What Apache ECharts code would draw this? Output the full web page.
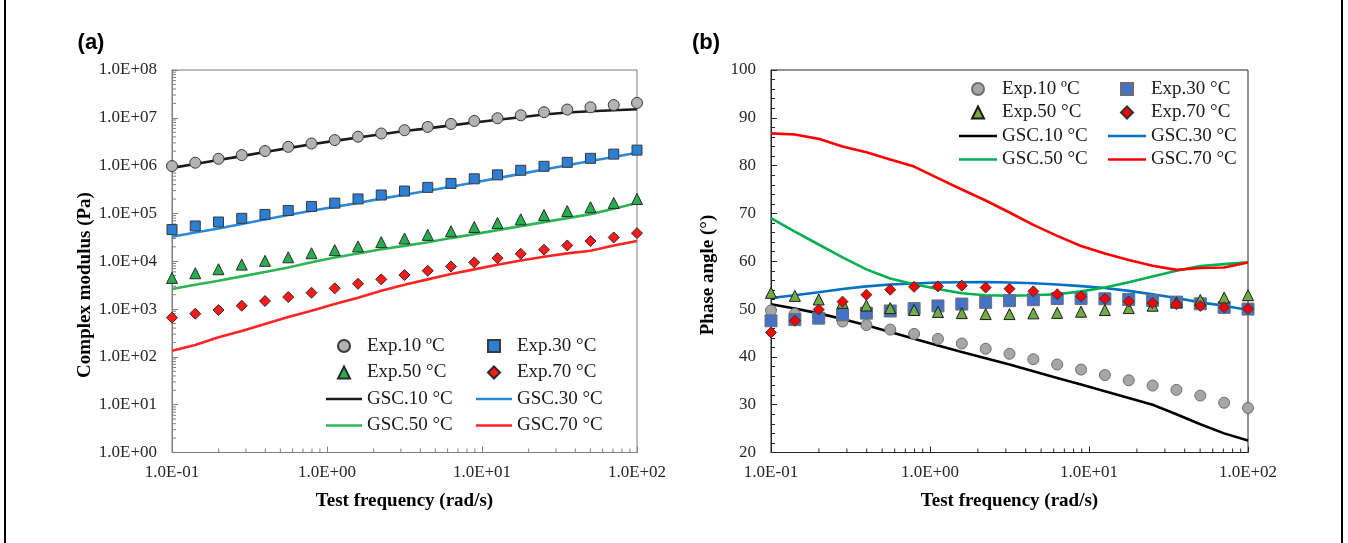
<!DOCTYPE html>
<html><head><meta charset="utf-8">
<script src="https://cdn.jsdelivr.net/npm/echarts@6.0.0/dist/echarts.min.js"></script>
<style>
html,body{margin:0;padding:0;background:#fff;width:1348px;height:543px;overflow:hidden}
#a{position:absolute;left:0;top:0;width:680px;height:543px}
#b{position:absolute;left:680px;top:0;width:668px;height:543px}
</style>
</head><body><div id="a"></div><div id="b"></div>
<script>
// ---- data ----
const freq = [0.1, 0.1413, 0.1995, 0.2818, 0.3981, 0.5623, 0.7943, 1.122, 1.585, 2.239, 3.162, 4.467, 6.310, 8.913, 12.59, 17.78, 25.12, 35.48, 50.12, 70.79, 100];

const exp10G = [9.8e5, 1.15e6, 1.39e6, 1.66e6, 2.02e6, 2.47e6, 2.9e6, 3.42e6, 4.02e6, 4.7e6, 5.5e6, 6.45e6, 7.45e6, 8.6e6, 9.8e6, 1.13e7, 1.31e7, 1.49e7, 1.66e7, 1.85e7, 2.05e7];
const exp30G = [4.59e4, 5.47e4, 6.62e4, 7.89e4, 9.53e4, 1.15e5, 1.40e5, 1.64e5, 2.01e5, 2.43e5, 2.94e5, 3.51e5, 4.25e5, 5.30e5, 6.41e5, 8.0e5, 9.68e5, 1.17e6, 1.42e6, 1.74e6, 2.11e6];
const exp50G = [4.49e3, 5.61e3, 6.81e3, 8.51e3, 1.02e4, 1.21e4, 1.47e4, 1.71e4, 2.04e4, 2.51e4, 2.99e4, 3.56e4, 4.24e4, 5.21e4, 6.31e4, 7.52e4, 9.24e4, 1.12e5, 1.35e5, 1.66e5, 2.01e5];
const exp70G = [661, 800, 955, 1175, 1472, 1786, 2198, 2710, 3380, 4180, 5140, 6320, 7800, 9460, 1.16e4, 1.43e4, 1.74e4, 2.14e4, 2.64e4, 3.15e4, 3.87e4];
const gsc10G = [8.96e5, 1.08e6, 1.31e6, 1.58e6, 1.92e6, 2.32e6, 2.81e6, 3.29e6, 3.86e6, 4.52e6, 5.3e6, 6.01e6, 6.94e6, 8.0e6, 9.1e6, 1.03e7, 1.17e7, 1.29e7, 1.37e7, 1.44e7, 1.51e7];
const gsc30G = [3.24e4, 3.98e4, 4.82e4, 6.0e4, 7.5e4, 9.25e4, 1.14e5, 1.37e5, 1.66e5, 2.04e5, 2.47e5, 2.99e5, 3.62e5, 4.45e5, 5.47e5, 6.73e5, 8.27e5, 1.02e6, 1.25e6, 1.51e6, 1.86e6];
const gsc50G = [2.62e3, 3.23e3, 3.91e3, 4.83e3, 5.94e3, 7.43e3, 9.5e3, 1.2e4, 1.45e4, 1.78e4, 2.1e4, 2.5e4, 3.05e4, 3.69e4, 4.48e4, 5.42e4, 6.58e4, 7.97e4, 9.67e4, 1.25e5, 1.66e5];
const gsc70G = [135, 177, 257, 348, 488, 683, 925, 1274, 1726, 2415, 3227, 4180, 5400, 6760, 8430, 1.04e4, 1.24e4, 1.46e4, 1.66e4, 2.14e4, 2.64e4];

const exp10P = [49.7, 49.0, 48.2, 47.4, 46.65, 45.7, 44.8, 43.75, 42.8, 41.7, 40.65, 39.5, 38.4, 37.35, 36.2, 35.1, 34.0, 33.1, 31.9, 30.4, 29.3];
const exp30P = [47.55, 47.8, 48.1, 48.8, 49.15, 49.6, 50.1, 50.65, 51.05, 51.4, 51.75, 51.95, 52.2, 52.2, 52.15, 52.0, 51.8, 51.45, 51.1, 50.35, 50.0];
const exp50P = [53.4, 52.75, 52.0, 51.3, 50.75, 50.2, 49.8, 49.4, 49.15, 48.95, 48.95, 49.1, 49.2, 49.45, 49.8, 50.2, 50.7, 51.4, 51.9, 52.4, 52.9];
const exp70P = [45.1, 47.55, 49.9, 51.55, 53.0, 54.05, 54.65, 54.75, 54.9, 54.5, 54.25, 53.7, 53.1, 52.65, 52.15, 51.6, 51.25, 51.0, 50.65, 50.35, 50.05];
const gsc10P = [51.0, 50.1, 49.1, 47.9, 46.6, 45.2, 43.8, 42.4, 41.0, 39.7, 38.4, 37.0, 35.6, 34.2, 32.8, 31.4, 30.0, 28.0, 25.9, 24.0, 22.5];
const gsc30P = [52.3, 52.9, 53.5, 54.2, 54.75, 55.15, 55.35, 55.55, 55.6, 55.65, 55.55, 55.4, 55.15, 54.8, 54.4, 53.8, 53.1, 52.3, 51.4, 50.7, 49.8];
const gsc50P = [69.0, 66.2, 63.5, 60.8, 58.3, 56.4, 55.2, 54.2, 53.3, 52.9, 52.8, 52.9, 53.1, 53.7, 54.5, 55.6, 56.8, 58.0, 59.0, 59.4, 59.8];
const gsc70P = [86.75, 86.5, 85.6, 84.0, 82.8, 81.3, 79.8, 77.4, 75.0, 72.7, 70.2, 67.6, 65.3, 63.2, 61.6, 60.25, 59.05, 58.2, 58.6, 58.7, 59.75];

const xTickLabels = ['1.0E-01', '1.0E+00', '1.0E+01', '1.0E+02'];
const yTickLabelsG = ['1.0E+00', '1.0E+01', '1.0E+02', '1.0E+03', '1.0E+04', '1.0E+05', '1.0E+06', '1.0E+07', '1.0E+08'];

const namesExp = ['Exp.10 ºC', 'Exp.30 °C', 'Exp.50 °C', 'Exp.70 °C'];
const namesGsc = ['GSC.10 °C', 'GSC.30 °C', 'GSC.50 °C', 'GSC.70 °C'];

// ---- helpers ----
const FONT = 'Liberation Serif';
const ICON = {
  circle: 'path://M50,0A50,50,0,1,1,49.99,0Z',
  rect: 'path://M0,0H100V100H0Z',
  triangle: 'path://M50,0L100,100H0Z',
  diamond: 'path://M50,0L100,50L50,100L0,50Z',
  line: 'path://M0,0H100V7H0Z'
};
const pairs = (ys) => freq.map((f, i) => [f, ys[i]]);
function minorVals(lo, hi) { const o = []; for (let e = lo; e < hi; e++) for (let k = 2; k <= 9; k++) o.push(k * Math.pow(10, e)); return o; }
function xMinorSeries(yBase, color) {
  return { type: 'custom', silent: true, z: 1, clip: false,
    data: minorVals(-1, 2).map(v => [v, yBase]),
    renderItem: (p, api) => { const c = api.coord([api.value(0), api.value(1)]);
      return { type: 'line', shape: { x1: c[0], y1: c[1], x2: c[0], y2: c[1] - 4 }, style: { stroke: color, lineWidth: 1 } }; } };
}
function yMinorSeries(xBase, lo, hi, color) {
  return { type: 'custom', silent: true, z: 1, clip: false,
    data: minorVals(lo, hi).map(v => [xBase, v]),
    renderItem: (p, api) => { const c = api.coord([api.value(0), api.value(1)]);
      return { type: 'line', shape: { x1: c[0], y1: c[1], x2: c[0] + 4, y2: c[1] }, style: { stroke: color, lineWidth: 1 } }; } };
}
const xLabelFmt = (v) => xTickLabels[Math.round(Math.log10(v)) + 1];
function lineS(name, ys, color) {
  return { name, type: 'line', data: pairs(ys), symbol: 'none', z: 2,
    lineStyle: { color, width: 2.6 }, itemStyle: { color, borderColor: color, borderWidth: 0 } };
}
function scatS(name, ys, symbol, size, fill, border) {
  return { name, type: 'scatter', data: pairs(ys), symbol, symbolSize: size, z: 3,
    itemStyle: { color: fill, borderColor: border, borderWidth: 1, opacity: 1 } };
}
function legendCol(items, left, top, gap, fs, iw) {
  return { data: items.map(it => ({ name: it[0], icon: ICON[it[1]] })),
    orient: 'vertical', left, top, itemWidth: iw, itemHeight: 12, itemGap: gap, padding: 0,
    symbolKeepAspect: true, selectedMode: false,
    textStyle: { fontFamily: FONT, fontSize: fs, color: '#1a1a1a', lineHeight: 20 } };
}
function titleText(x, y, txt, rot) {
  return { type: 'text', x, y, rotation: rot || 0,
    style: { text: txt, font: 'bold 19px "' + FONT + '"', fill: '#000', align: 'center', verticalAlign: 'middle' } };
}
const col1 = [[namesExp[0], 'circle'], [namesExp[2], 'triangle'], [namesGsc[0], 'line'], [namesGsc[2], 'line']];
const col2 = [[namesExp[1], 'rect'], [namesExp[3], 'diamond'], [namesGsc[1], 'line'], [namesGsc[3], 'line']];

// ---- chart (a) ----
const axA = '#7f7f7f';
const chartA = echarts.init(document.getElementById('a'), null, { renderer: 'canvas' });
chartA.setOption({
  animation: false,
  backgroundColor: '#fff',
  grid: { left: 172, top: 70, width: 465, height: 382.5, show: true, borderColor: axA, borderWidth: 1, backgroundColor: 'transparent' },
  xAxis: { type: 'log', logBase: 10, min: 0.1, max: 100,
    axisLine: { show: true, onZero: false, lineStyle: { color: axA, width: 1 } },
    axisTick: { show: true, inside: true, length: 6, lineStyle: { color: axA } },
    splitLine: { show: false }, minorTick: { show: false },
    axisLabel: { formatter: xLabelFmt, fontFamily: FONT, fontSize: 17, color: '#262626', margin: 12 },
    name: 'Test frequency (rad/s)', nameLocation: 'middle', nameGap: 39,
    nameTextStyle: { fontFamily: FONT, fontWeight: 'bold', fontSize: 19, color: '#000' } },
  yAxis: { type: 'log', logBase: 10, min: 1, max: 1e8,
    axisLine: { show: true, onZero: false, lineStyle: { color: axA, width: 1 } },
    axisTick: { show: true, inside: true, length: 6, lineStyle: { color: axA } },
    splitLine: { show: false },
    axisLabel: { formatter: (v) => yTickLabelsG[Math.round(Math.log10(v))], fontFamily: FONT, fontSize: 17, color: '#262626', margin: 15 } },
  legend: [
    legendCol(col1, 326, 336, 6.5, 19, 36),
    legendCol(col2, 476, 336, 6.5, 19, 36)
  ],
  graphic: [
    { type: 'text', x: 91, y: 43, style: { text: '(a)', font: 'bold 22px "Liberation Sans"', fill: '#000', align: 'center', verticalAlign: 'middle' } },
    titleText(85, 285, 'Complex modulus (Pa)', Math.PI / 2),
    { type: 'line', shape: { x1: 5, y1: 0, x2: 5, y2: 543 }, style: { stroke: '#000', lineWidth: 2 } }
  ],
  series: [
    xMinorSeries(1, axA),
    yMinorSeries(0.1, 0, 8, axA),
    lineS(namesGsc[0], gsc10G, '#1a1a1a'),
    lineS(namesGsc[1], gsc30G, '#2a8ad6'),
    lineS(namesGsc[2], gsc50G, '#2db553'),
    lineS(namesGsc[3], gsc70G, '#ff2424'),
    scatS(namesExp[0], exp10G, 'circle', 11, '#b3b3b3', '#3a3a3a'),
    scatS(namesExp[1], exp30G, 'rect', 10, '#2b7fd4', '#3a3a3a'),
    scatS(namesExp[2], exp50G, 'triangle', 11, '#27ae4f', '#2a2a2a'),
    scatS(namesExp[3], exp70G, 'diamond', 11, '#ff1a1a', '#2a2a2a')
  ]
});

// ---- chart (b) ----
const axB = '#262626';
const chartB = echarts.init(document.getElementById('b'), null, { renderer: 'canvas' });
chartB.setOption({
  animation: false,
  backgroundColor: '#fff',
  grid: { left: 91, top: 70, width: 477, height: 382.5, show: true, borderColor: axB, borderWidth: 1, backgroundColor: 'transparent' },
  xAxis: { type: 'log', logBase: 10, min: 0.1, max: 100,
    axisLine: { show: true, onZero: false, lineStyle: { color: axB, width: 1 } },
    axisTick: { show: true, inside: true, length: 6, lineStyle: { color: axB } },
    splitLine: { show: false },
    axisLabel: { formatter: xLabelFmt, fontFamily: FONT, fontSize: 17, color: '#262626', margin: 12 },
    name: 'Test frequency (rad/s)', nameLocation: 'middle', nameGap: 39,
    nameTextStyle: { fontFamily: FONT, fontWeight: 'bold', fontSize: 19, color: '#000' } },
  yAxis: { type: 'value', min: 20, max: 100, interval: 10,
    axisLine: { show: true, onZero: false, lineStyle: { color: axB, width: 1 } },
    axisTick: { show: true, inside: true, length: 6, lineStyle: { color: axB } },
    minorTick: { show: true, splitNumber: 5, length: 4, lineStyle: { color: axB } },
    splitLine: { show: false },
    axisLabel: { fontFamily: FONT, fontSize: 17, color: '#262626', margin: 15 } },
  legend: [
    legendCol(col1, 279, 79, 3.5, 19, 38),
    legendCol(col2, 428, 79, 3.5, 19, 38)
  ],
  graphic: [
    { type: 'text', x: 26, y: 43, style: { text: '(b)', font: 'bold 22px "Liberation Sans"', fill: '#000', align: 'center', verticalAlign: 'middle' } },
    titleText(28, 275, 'Phase angle (°)', Math.PI / 2),
    { type: 'line', shape: { x1: 662, y1: 0, x2: 662, y2: 543 }, style: { stroke: '#000', lineWidth: 2 } }
  ],
  series: [
    xMinorSeries(20, axB),
    lineS(namesGsc[0], gsc10P, '#000000'),
    lineS(namesGsc[1], gsc30P, '#0070c0'),
    lineS(namesGsc[2], gsc50P, '#00b050'),
    lineS(namesGsc[3], gsc70P, '#ff0000'),
    scatS(namesExp[0], exp10P, 'circle', 11, '#a6a6a6', '#6e6e6e'),
    scatS(namesExp[1], exp30P, 'rect', 12, '#4472c4', '#6e6e6e'),
    scatS(namesExp[2], exp50P, 'triangle', 11, '#70ad47', '#1a1a1a'),
    scatS(namesExp[3], exp70P, 'diamond', 11, '#ff0000', '#333333')
  ]
});
</script></body></html>
